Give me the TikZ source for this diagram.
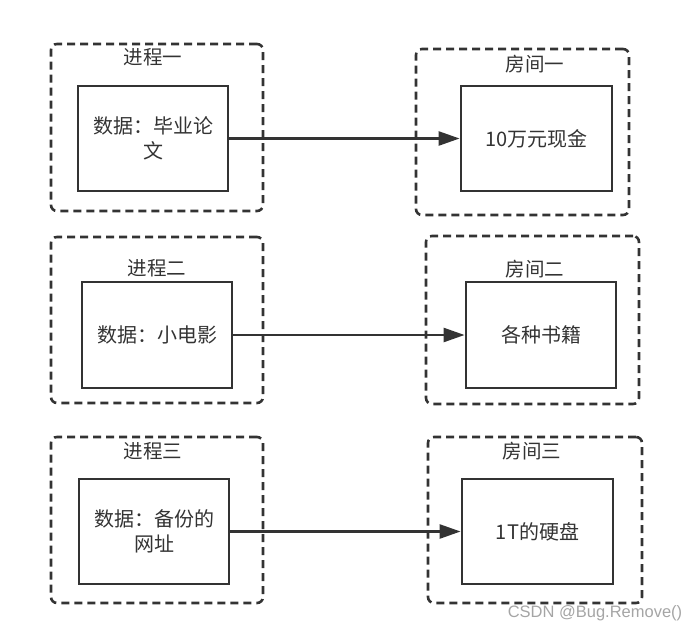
\documentclass[tikz,border=0pt]{standalone}
\usepackage{fontspec}
\setmainfont{Liberation Sans}
\newfontfamily\cjk{Noto Sans CJK SC}
\usetikzlibrary{arrows.meta}
\definecolor{ink}{RGB}{51,51,51}
\definecolor{wm}{RGB}{165,165,165}
\begin{document}
\begin{tikzpicture}[x=1pt,y=-1pt,
  outerbox/.style={draw=ink, line width=2.6pt, dash pattern=on 8pt off 5pt, rounded corners=6pt, minimum width=#1},
  innerbox/.style={draw=ink, line width=2.8pt, minimum width=150pt, minimum height=105pt, align=center, font=\cjk\fontsize{20}{25}\selectfont, text=ink},
  title/.style={font=\cjk\fontsize{19.5}{25}\selectfont, text=ink},
  link/.style={draw=ink, line width=2.5pt, -{Triangle[length=21pt,width=14pt]}}
]
\useasboundingbox (0,0) rectangle (696,632);
% outer dashed containers
\node[outerbox=212pt, minimum height=167pt] (p1) at (157,127.5) {};
\node[outerbox=213pt, minimum height=166pt] (r1) at (522.5,132) {};
\node[outerbox=212pt, minimum height=166pt] (p2) at (157,320) {};
\node[outerbox=213pt, minimum height=168pt] (r2) at (532.5,320) {};
\node[outerbox=212pt, minimum height=166pt] (p3) at (157,520) {};
\node[outerbox=214pt, minimum height=166pt] (r3) at (535,520) {};
% titles
\node[title] (tp1) at (153,57) {进程一};
\node[title] (tr1) at (535,64) {房间一};
\node[title] (tp2) at (157,268) {进程二};
\node[title] (tr2) at (535,269) {房间二};
\node[title] (tp3) at (153,451) {进程三};
\node[title] (tr3) at (532,451) {房间三};
% inner boxes
\node[innerbox] (d1) at (153,138.5) {数据：毕业论\\文};
\node[innerbox, minimum width=151pt] (m1) at (536.5,138.5) {10万元现金};
\node[innerbox, minimum height=106pt] (d2) at (157,335) {数据：小电影};
\node[innerbox, minimum height=106pt] (m2) at (541,335) {各种书籍};
\node[innerbox] (d3) at (154,531.5) {数据：备份的\\网址};
\node[innerbox, minimum width=151pt] (m3) at (537.5,531.5) {1T的硬盘};
% connectors
\draw[link] (d1.east) -- (m1.west);
\draw[link] (d2.east) -- (m2.west);
\draw[link] (d3.east) -- (m3.west);
% watermark
\node[text=wm, font=\fontsize{16.5}{19}\selectfont] (wmk) at (595,613) {CSDN @Bug.Remove()};
\end{tikzpicture}
\end{document}
